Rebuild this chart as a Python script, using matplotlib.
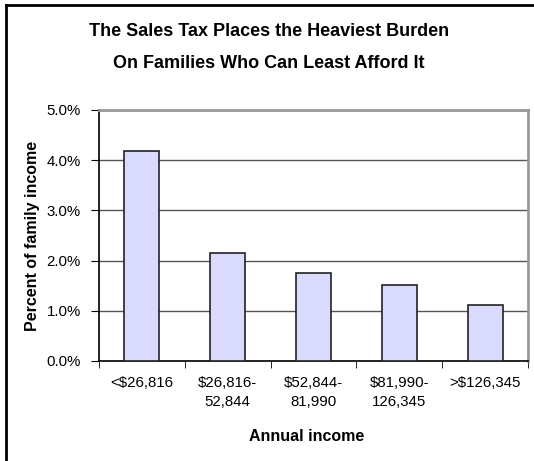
import numpy as np
import matplotlib.pyplot as plt
from matplotlib.lines import Line2D

plt.rcParams['font.family'] = ['Liberation Sans', 'DejaVu Sans']

# Data
categories = ['<$26,816', '$26,816-\n52,844', '$52,844-\n81,990', '$81,990-\n126,345', '>$126,345']
tax_share = [4.18, 2.15, 1.76, 1.52, 1.12]
y_ticks = [0, 1, 2, 3, 4, 5]

W, H = 534, 461
fig = plt.figure(figsize=(W / 100, H / 100), dpi=100)
ax = fig.add_axes([99 / W, 1 - 361 / H, (528 - 99) / W, (361 - 110) / H])

x = np.arange(len(categories))
ax.bar(x, tax_share, width=0.41, color='#DADAFF', edgecolor='#222222', linewidth=1.2, zorder=3)

ax.set_xlim(-0.5, len(categories) - 0.5)
ax.set_ylim(0, 5)
ax.set_yticks(y_ticks)
ax.set_yticklabels([f'{v:.1f}%' for v in y_ticks], fontsize=10.8)
ax.yaxis.grid(True, color='#555555', linewidth=1.0, zorder=0)

# category labels centred, ticks at category boundaries
ax.set_xticks(x)
ax.set_xticklabels(categories, fontsize=10.8, linespacing=1.45)
ax.tick_params(axis='x', length=0, pad=11)
ax.set_xticks(np.arange(len(categories) + 1) - 0.5, minor=True)
ax.tick_params(axis='x', which='minor', length=5, direction='out', color='black')
ax.tick_params(axis='y', length=6, direction='out', pad=7, color='black')

for side in ['top', 'right']:
    ax.spines[side].set_color('#999999')
    ax.spines[side].set_linewidth(2)
for side in ['left', 'bottom']:
    ax.spines[side].set_color('black')
    ax.spines[side].set_linewidth(1.2)

ax.set_ylabel('Percent of family income', fontsize=11.5, fontweight='bold')
ax.yaxis.set_label_coords((33 - 99) / 429, 0.5)
ax.set_xlabel('Annual income', fontsize=11.5, fontweight='bold')
ax.xaxis.set_label_coords(0.485, (361 - 436) / 251)
ax.xaxis.label.set_va('center')
ax.yaxis.label.set_va('center')

fig.text(269 / W, 1 - 32 / H, 'The Sales Tax Places the Heaviest Burden',
         ha='center', va='center', fontsize=13, fontweight='bold')
fig.text(269 / W, 1 - 63 / H, 'On Families Who Can Least Afford It',
         ha='center', va='center', fontsize=13, fontweight='bold')

# outer chart border (only top and left are inside the picture)
fig.add_artist(Line2D([6 / W, 6 / W], [0, 1 - 5 / H], transform=fig.transFigure, color='black', linewidth=2))
fig.add_artist(Line2D([6 / W, 1], [1 - 5 / H, 1 - 5 / H], transform=fig.transFigure, color='black', linewidth=2))

fig.savefig('out.png', dpi=100)
